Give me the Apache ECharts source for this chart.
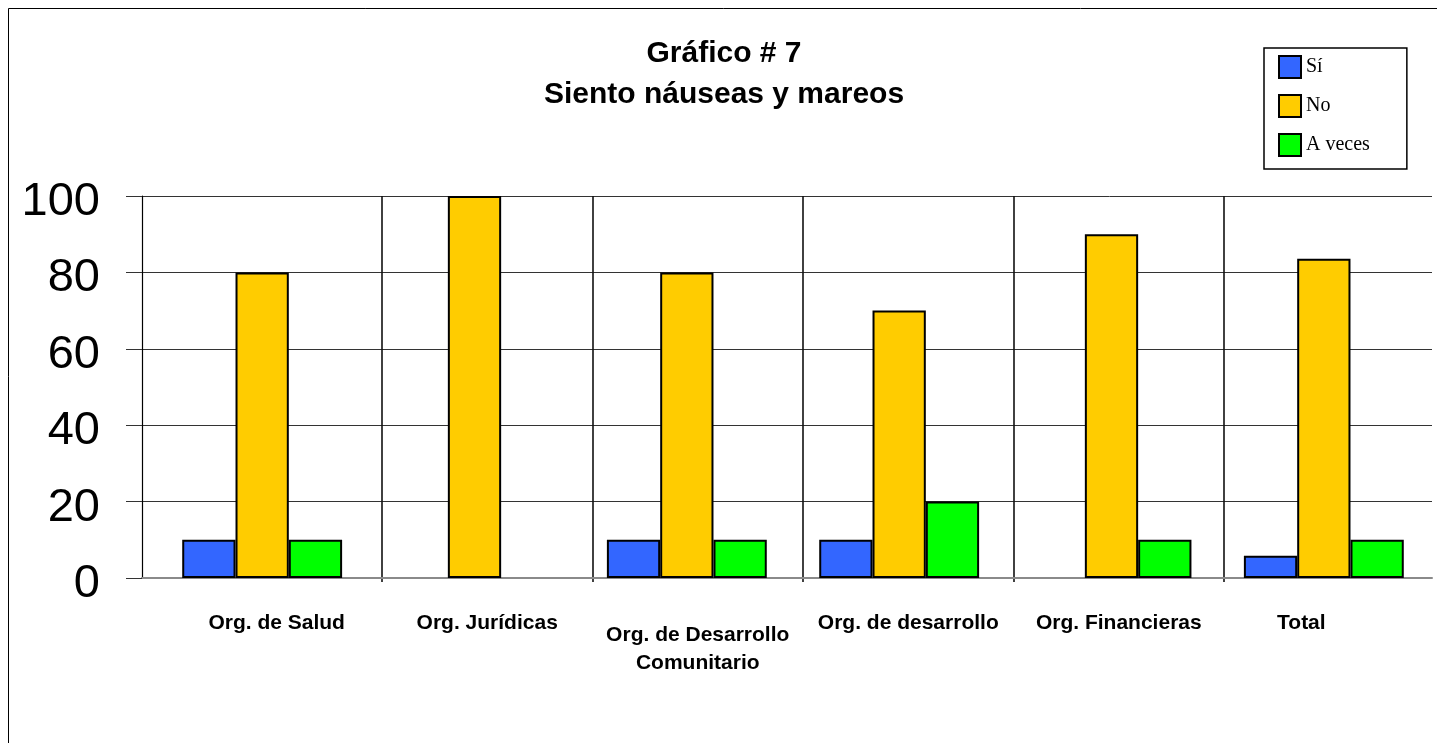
<!DOCTYPE html>
<html>
<head>
<meta charset="utf-8">
<title>Gráfico # 7</title>
<script src="https://cdn.jsdelivr.net/npm/echarts@6/dist/echarts.min.js"></script>
<style>
  html, body { margin: 0; padding: 0; background: #fff; }
  #chart { width: 1437px; height: 743px; }
</style>
</head>
<body>
<div id="chart"></div>
<script>
// Categories (one group of bars each)
const categories = [
  'Org. de Salud',
  'Org. Jurídicas',
  'Org. de Desarrollo\nComunitario',
  'Org. de desarrollo',
  'Org. Financieras',
  'Total'
];
// Percentages per answer
const seriesNames = ['Sí', 'No', 'A veces'];
const si     = [10, 0, 10, 10, 0, 5.8];
const no     = [80, 100, 80, 70, 90, 83.6];
const aVeces = [10, 0, 10, 20, 10, 10];
// Value axis scale
const yMin = 0, yMax = 100, yStep = 20;
// Chart heading
const titleLines = ['Gráfico # 7', 'Siento náuseas y mareos'];

const colors = ['#3366FF', '#FFCC00', '#00FF00'];
const sans = '"Liberation Sans", Arial, sans-serif';
const serif = '"Liberation Serif", "Times New Roman", serif';

// Zero-height bars draw nothing (no outline on the baseline)
const toData = arr => arr.map(v => v === 0 ? { value: 0, itemStyle: { borderWidth: 0 } } : v);

// Shared vertical extent of the plot
const plotTop = 196, plotBottom = 165;

const chart = echarts.init(document.getElementById('chart'), null, { renderer: 'canvas' });

chart.setOption({
  animation: false,
  backgroundColor: '#fff',
  legend: {
    orient: 'vertical',
    left: 1264,
    top: 48,
    padding: [7, 37, 12, 14],
    itemWidth: 22,
    itemHeight: 22,
    itemGap: 15,
    borderColor: '#000',
    borderWidth: 1.5,
    icon: 'rect',
    data: seriesNames,
    textStyle: { fontFamily: serif, fontSize: 20, color: '#000' }
  },
  graphic: [
    {
      type: 'rect',
      silent: true,
      z: -10,
      shape: { x: 8.5, y: 8.5, width: 1440, height: 760 },
      style: { fill: null, stroke: '#000', lineWidth: 1 }
    },
    {
      type: 'text',
      silent: true,
      x: 724,
      y: 33,
      style: {
        text: titleLines.join('\n'),
        align: 'center',
        verticalAlign: 'top',
        fontFamily: sans,
        fontWeight: 'bold',
        fontSize: 30,
        lineHeight: 41,
        fill: '#000'
      }
    }
  ],
  grid: [
    // value axis, gridlines and baseline
    { left: 142, right: 5, top: plotTop, bottom: plotBottom },
    // bar groups
    { left: 156, right: 7, top: plotTop, bottom: plotBottom },
    // category separators and labels
    { left: 171.4, right: 2.4, top: plotTop, bottom: plotBottom - 4 }
  ],
  xAxis: [
    {
      gridIndex: 0, type: 'value', min: 0, max: 1,
      axisLine: { show: true, onZero: false, lineStyle: { color: '#8a8a8a', width: 2 } },
      axisTick: { show: false }, axisLabel: { show: false }, splitLine: { show: false }
    },
    {
      gridIndex: 1, type: 'category', data: categories,
      axisLine: { show: false }, axisTick: { show: false },
      axisLabel: { show: false }, splitLine: { show: false }
    },
    {
      gridIndex: 2, type: 'category',
      data: categories.map((c, i) => {
        if (i === 2) return { value: c, textStyle: { padding: [12, 0, 0, 0] } };
        if (i === 5) return { value: c, textStyle: { padding: [0, 56, 0, 0] } };
        return c;
      }),
      axisLine: { show: false }, axisTick: { show: false },
      splitLine: {
        show: true, showMinLine: false, showMaxLine: false,
        lineStyle: { color: '#111', width: 1.6 }
      },
      axisLabel: {
        interval: 0,
        margin: 27,
        fontFamily: sans,
        fontWeight: 'bold',
        fontSize: 21,
        lineHeight: 28,
        color: '#000'
      }
    }
  ],
  yAxis: [
    {
      gridIndex: 0, type: 'value', min: yMin, max: yMax, interval: yStep,
      axisLine: { show: true, lineStyle: { color: '#000', width: 1.2 } },
      axisTick: { show: true, inside: false, length: 16, lineStyle: { color: '#333' } },
      axisLabel: {
        margin: 42,
        formatter: '{v|{value}}',
        rich: {
          v: { fontFamily: sans, fontSize: 47, color: '#000', padding: [12, 0, 0, 0] }
        }
      },
      splitLine: { show: true, lineStyle: { color: '#333', width: 1 } }
    },
    {
      gridIndex: 1, type: 'value', min: yMin, max: yMax, show: false
    },
    {
      gridIndex: 2, type: 'value', min: yMin, max: yMax, show: false
    }
  ],
  series: [si, no, aVeces].map((arr, i) => ({
    name: seriesNames[i],
    type: 'bar',
    xAxisIndex: 1,
    yAxisIndex: 1,
    barGap: '0%',
    barCategoryGap: '24.7%',
    itemStyle: { color: colors[i], borderColor: '#000', borderWidth: 2 },
    data: toData(arr)
  }))
});
</script>
</body>
</html>
